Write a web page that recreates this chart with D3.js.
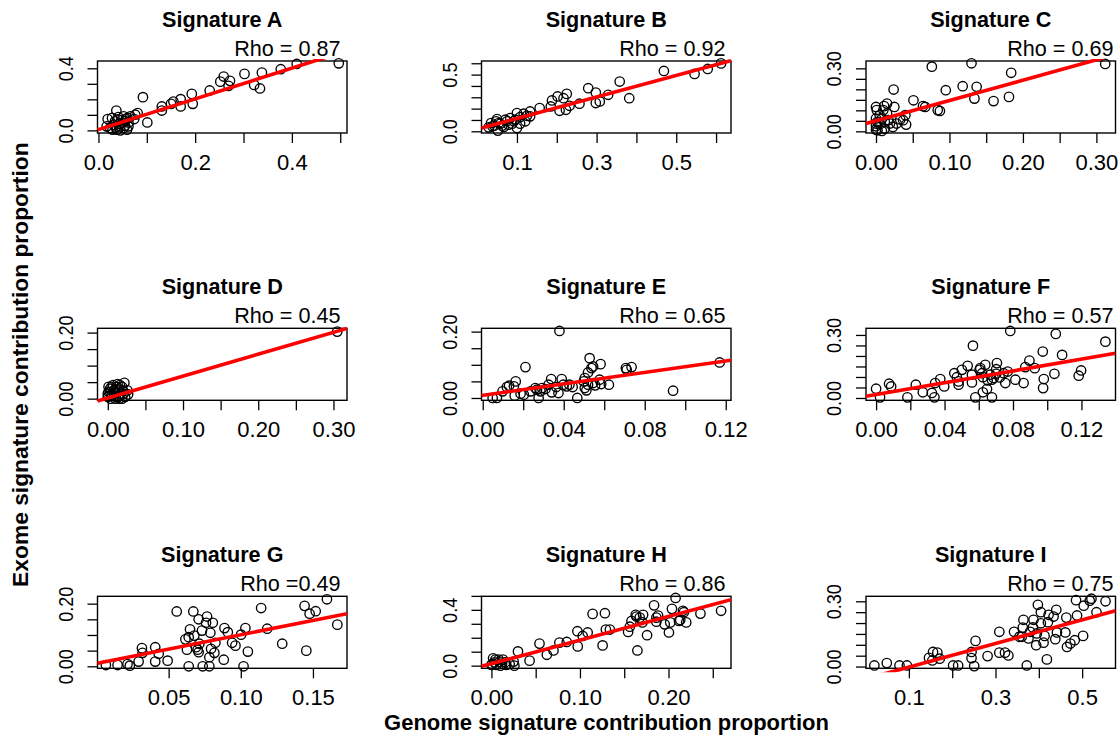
<!DOCTYPE html>
<html>
<head>
<meta charset="utf-8">
<script src="https://cdn.jsdelivr.net/npm/d3@7"></script>
<style>
  body { margin: 0; background: #fff; }
  svg { display: block; }
</style>
</head>
<body>
<svg id="chart" width="1120" height="751"></svg>
<script>
// ---- data: genome (x) vs exome (y) signature contribution proportions ----
const panelTitles = ["Signature A", "Signature B", "Signature C",
                     "Signature D", "Signature E", "Signature F",
                     "Signature G", "Signature H", "Signature I"];
const rhoLabels = ["Rho = 0.87", "Rho = 0.92", "Rho = 0.69",
                   "Rho = 0.45", "Rho = 0.65", "Rho = 0.57",
                   "Rho =0.49", "Rho = 0.86", "Rho = 0.75"];

const sigA = [[0.497,0.432],[0.410,0.428],[0.377,0.394],[0.338,0.372],[0.302,0.364],[0.259,0.347],[0.252,0.314],[0.272,0.319],[0.269,0.287],[0.322,0.293],[0.334,0.270],[0.230,0.257],[0.193,0.235],[0.195,0.171],[0.170,0.201],[0.170,0.154],[0.155,0.186],[0.150,0.171],[0.131,0.154],[0.131,0.128],[0.092,0.214],[0.101,0.051],[0.081,0.111],[0.076,0.101],[0.074,0.073],[0.062,0.051],[0.055,0.030],[0.037,0.128],[0.019,0.073],[0.024,0.015],[0.031,0.036],[0.038,0.004],[0.045,0.000],[0.052,0.015],[0.059,0.004],[0.048,0.068],[0.041,0.086],[0.052,0.090],[0.034,0.058],[0.062,0.026],[0.017,0.026],[0.043,0.043],[0.057,0.073],[0.028,0.080],[0.045,0.025],[0.036,0.018],[0.050,0.050],[0.060,0.080],[0.066,0.090],[0.029,0.005],[0.040,0.070],[0.055,0.060]];

const sigB = [[0.6125,0.599],[0.579,0.550],[0.546,0.506],[0.469,0.532],[0.358,0.439],[0.382,0.292],[0.329,0.322],[0.298,0.342],[0.298,0.249],[0.308,0.263],[0.279,0.380],[0.257,0.243],[0.225,0.330],[0.217,0.292],[0.202,0.307],[0.188,0.272],[0.185,0.219],[0.207,0.181],[0.223,0.190],[0.232,0.225],[0.157,0.205],[0.133,0.175],[0.117,0.155],[0.100,0.161],[0.108,0.126],[0.121,0.088],[0.100,0.029],[0.083,0.117],[0.075,0.088],[0.058,0.067],[0.048,0.088],[0.050,0.108],[0.035,0.073],[0.029,0.035],[0.052,0.006],[0.067,0.038],[0.088,0.067],[0.096,0.102],[0.125,0.137],[0.071,0.102],[0.043,0.050],[0.063,0.050],[0.108,0.067],[0.079,0.058],[0.092,0.088],[0.054,0.073],[0.038,0.044],[0.133,0.132]];

const sigC = [[0.312,0.321],[0.130,0.324],[0.076,0.308],[0.184,0.279],[0.118,0.215],[0.137,0.212],[0.095,0.196],[0.134,0.156],[0.160,0.144],[0.181,0.164],[0.024,0.199],[0.051,0.148],[0.064,0.120],[0.067,0.116],[0.084,0.101],[0.087,0.097],[0.040,0.077],[0.041,0.032],[0.033,0.056],[0.028,0.037],[0.023,0.021],[0.025,0.116],[0.015,0.132],[0.011,0.120],[0.000,0.116],[0.001,0.101],[0.015,0.085],[0.008,0.061],[0.002,0.045],[0.000,0.024],[0.002,0.005],[0.008,0.002],[0.012,0.013],[0.005,0.034],[0.017,0.053],[0.000,0.061],[0.000,0.008],[0.019,0.037],[0.005,0.077],[0.010,0.101],[0.000,0.037],[0.012,0.045],[0.037,0.053]];

const sigD = [[0.305,0.203],[0.022,0.048],[0.027,0.013],[0.016,0.041],[0.012,0.036],[0.003,0.030],[0.001,0.020],[0.005,0.010],[0.010,0.000],[0.014,0.005],[0.019,0.000],[0.000,0.005],[0.008,0.025],[0.011,0.017],[0.015,0.027],[0.021,0.015],[0.004,0.000],[0.001,0.036],[0.016,0.013],[0.023,0.005],[0.007,0.041],[0.013,0.044],[0.019,0.036],[0.000,0.015],[0.008,0.007],[0.020,0.025],[0.003,0.020],[0.015,0.000],[0.026,0.025],[0.010,0.029],[0.005,0.036]];

const sigE = [[0.117,0.107],[0.094,0.022],[0.0735,0.093],[0.0707,0.090],[0.0711,0.085],[0.0379,0.202],[0.0528,0.120],[0.0582,0.102],[0.0545,0.095],[0.0537,0.090],[0.052,0.077],[0.0504,0.060],[0.0499,0.050],[0.0504,0.030],[0.0512,0.023],[0.052,0.040],[0.0545,0.045],[0.0577,0.055],[0.0585,0.042],[0.0623,0.040],[0.0467,0.000],[0.0444,0.033],[0.0428,0.040],[0.0415,0.035],[0.039,0.057],[0.0338,0.057],[0.0374,0.015],[0.0341,0.017],[0.0325,0.040],[0.031,0.027],[0.0285,0.020],[0.0276,0.000],[0.026,0.030],[0.0236,0.020],[0.0211,0.093],[0.0203,0.010],[0.0187,0.013],[0.0163,0.050],[0.0154,0.035],[0.0158,0.007],[0.013,0.037],[0.0119,0.033],[0.0098,0.020],[0.007,0.000],[0.0049,0.000],[0.0363,0.033],[0.0398,0.040],[0.0268,0.025],[0.0293,0.030],[0.0555,0.038]];

const sigF = [[0.134,0.268],[0.105,0.305],[0.0784,0.319],[0.0566,0.249],[0.0974,0.221],[0.1087,0.205],[0.0896,0.178],[0.0872,0.147],[0.0927,0.142],[0.0706,0.166],[0.0702,0.137],[0.0702,0.115],[0.0638,0.158],[0.0609,0.142],[0.0605,0.134],[0.0619,0.118],[0.0624,0.099],[0.0652,0.084],[0.0667,0.111],[0.0677,0.087],[0.0648,0.043],[0.0624,0.027],[0.0677,0.003],[0.058,0.003],[0.0560,0.074],[0.0560,0.111],[0.0535,0.153],[0.0501,0.134],[0.0457,0.118],[0.0472,0.099],[0.0482,0.063],[0.0482,0.079],[0.0375,0.090],[0.0345,0.071],[0.0398,0.055],[0.0326,0.024],[0.0341,0.003],[0.0273,0.027],[0.0232,0.063],[0.0183,0.003],[0.0076,0.068],[0.0088,0.055],[0.000,0.044],[0.0023,0.003],[0.0755,0.071],[0.0769,0.126],[0.0814,0.087],[0.0862,0.071],[0.0980,0.090],[0.0976,0.047],[0.1042,0.115],[0.1184,0.106],[0.1198,0.131],[0.0722,0.098],[0.0687,0.095],[0.0745,0.118]];

const sigG = [[0.1597,0.214],[0.1669,0.133],[0.1442,0.193],[0.1519,0.176],[0.1477,0.168],[0.1454,0.050],[0.1141,0.186],[0.1183,0.120],[0.1287,0.072],[0.1032,0.122],[0.1002,0.101],[0.1019,0.000],[0.1049,0.047],[0.0963,0.066],[0.0940,0.075],[0.0910,0.109],[0.0887,0.122],[0.0882,0.021],[0.0824,0.075],[0.0817,0.043],[0.0794,0.056],[0.0806,0.139],[0.0789,0.107],[0.0766,0.159],[0.0759,0.139],[0.0782,0.029],[0.0782,0.000],[0.0736,0.000],[0.0731,0.114],[0.0708,0.150],[0.0671,0.175],[0.0708,0.045],[0.0701,0.053],[0.0690,0.061],[0.0678,0.098],[0.0648,0.118],[0.0639,0.093],[0.0616,0.086],[0.0627,0.053],[0.0639,0.000],[0.0556,0.175],[0.0493,0.018],[0.0431,0.040],[0.0407,0.061],[0.0407,0.015],[0.0315,0.058],[0.0319,0.043],[0.0292,0.015],[0.0231,0.002],[0.0215,0.007],[0.0146,0.004],[0.0065,0.004],[0.0713,0.072]];

const sigH = [[0.2594,0.393],[0.2361,0.373],[0.2080,0.485],[0.2039,0.407],[0.2163,0.393],[0.2174,0.383],[0.2133,0.327],[0.2200,0.310],[0.2118,0.320],[0.2020,0.310],[0.2005,0.238],[0.1957,0.296],[0.1837,0.432],[0.1863,0.344],[0.1882,0.359],[0.1863,0.315],[0.1758,0.218],[0.1713,0.364],[0.1705,0.310],[0.1675,0.344],[0.1638,0.352],[0.1582,0.320],[0.1563,0.279],[0.1544,0.242],[0.1649,0.109],[0.1630,0.364],[0.1338,0.259],[0.1293,0.259],[0.1282,0.376],[0.1143,0.371],[0.1256,0.145],[0.1087,0.238],[0.1031,0.213],[0.0971,0.247],[0.0975,0.138],[0.0851,0.170],[0.0768,0.165],[0.0701,0.109],[0.0626,0.078],[0.0543,0.158],[0.0431,0.036],[0.0300,0.102],[0.0251,0.029],[0.0259,0.000],[0.0206,0.012],[0.0157,0.024],[0.0120,0.012],[0.0094,0.029],[0.0045,0.044],[0.0019,0.053],[0.0007,0.012],[0.0056,0.005],[0.0082,0.044],[0.0131,0.044],[0.0034,0.024],[0.0000,0.005],[0.0101,0.000],[0.0169,0.005]];

const sigI = [[0.554,0.300],[0.5215,0.312],[0.5176,0.303],[0.4859,0.305],[0.5037,0.280],[0.5331,0.250],[0.4882,0.235],[0.4635,0.225],[0.5022,0.141],[0.4828,0.121],[0.4728,0.106],[0.4650,0.090],[0.4612,0.157],[0.4418,0.157],[0.4380,0.126],[0.4341,0.230],[0.4225,0.238],[0.4210,0.204],[0.4403,0.261],[0.4186,0.033],[0.4132,0.141],[0.4047,0.199],[0.4047,0.250],[0.3978,0.284],[0.3954,0.152],[0.3939,0.098],[0.4109,0.110],[0.3877,0.215],[0.3862,0.180],[0.3645,0.215],[0.3630,0.179],[0.3606,0.137],[0.3761,0.129],[0.3722,0.005],[0.3552,0.137],[0.3428,0.160],[0.3088,0.160],[0.3800,0.160],[0.3297,0.051],[0.3219,0.064],[0.3088,0.064],[0.2817,0.048],[0.2539,0.118],[0.2446,0.067],[0.2446,0.039],[0.2508,0.002],[0.2137,0.005],[0.2021,0.005],[0.1657,0.064],[0.1557,0.067],[0.1464,0.040],[0.1541,0.028],[0.1712,0.036],[0.0954,0.005],[0.0783,0.005],[0.0490,0.016],[0.0203,0.005]];

const panelPoints = [sigA, sigB, sigC, sigD, sigE, sigF, sigG, sigH, sigI];

// least-squares fit lines (exome = intercept + slope * genome)
const fitIntercepts = [0.005, 0.019, 0.050, 0.002, 0.008, 0.0162, 0.009, 0.014, -0.0568];
const fitSlopes     = [0.990, 0.947, 0.969, 0.663, 0.861, 1.406,  0.916, 1.696, 0.543];

// axis limits
const xLimits = [[-0.002,0.514],[0.011,0.6375],[-0.0136,0.326],[-0.0137,0.318],[-0.0006,0.1226],[-0.0059,0.1399],[0.0007,0.1736],[-0.0112,0.2706],[0.001,0.577]];
const yLimits = [[-0.017,0.447],[-0.015,0.620],[-0.008,0.335],[-0.005,0.213],[-0.007,0.210],[-0.011,0.3316],[-0.0064,0.2235],[-0.019,0.497],[-0.008,0.323]];

// ticks (blank label = tick drawn without text)
const xTicks = [[0,0.1,0.2,0.3,0.4,0.5],[0.1,0.2,0.3,0.4,0.5,0.6],[0,0.05,0.1,0.15,0.2,0.25,0.3],
                [0,0.05,0.1,0.15,0.2,0.25,0.3],[0,0.02,0.04,0.06,0.08,0.1,0.12],[0,0.02,0.04,0.06,0.08,0.1,0.12],
                [0.05,0.1,0.15],[0,0.05,0.1,0.15,0.2,0.25],[0.1,0.2,0.3,0.4,0.5]];
const xTickLabels = [["0.0","","0.2","","0.4",""],["0.1","","0.3","","0.5",""],["0.00","","0.10","","0.20","","0.30"],
                     ["0.00","","0.10","","0.20","","0.30"],["0.00","","0.04","","0.08","","0.12"],["0.00","","0.04","","0.08","","0.12"],
                     ["0.05","0.10","0.15"],["0.00","","0.10","","0.20",""],["0.1","","0.3","","0.5"]];
const yTicks = [[0,0.1,0.2,0.3,0.4],[0,0.1,0.2,0.3,0.4,0.5,0.6],[0,0.05,0.1,0.15,0.2,0.25,0.3],
                [0,0.05,0.1,0.15,0.2],[0,0.05,0.1,0.15,0.2],[0,0.05,0.1,0.15,0.2,0.25,0.3],
                [0,0.05,0.1,0.15,0.2],[0,0.1,0.2,0.3,0.4,0.5],[0,0.05,0.1,0.15,0.2,0.25,0.3]];
const yTickLabels = [["0.0","","","","0.4"],["0.0","","","","","0.5",""],["0.00","","","","","","0.30"],
                     ["0.00","","","","0.20"],["0.00","","","","0.20"],["0.00","","","","","","0.30"],
                     ["0.00","","","","0.20"],["0.0","","","","0.4",""],["0.00","","","","","","0.30"]];

const xAxisTitle = "Genome signature contribution proportion";
const yAxisTitle = "Exome signature contribution proportion";

// ---- layout ----
const FONT = "'Liberation Sans', Arial, Helvetica, sans-serif";
const colLeft = [97.5, 481.5, 866];
const rowTop = [61, 328.3, 596.3];
const rhoInset = [6.5, 5.5, 2];
const boxW = 249.5, boxH = 72;
const tickLen = 10;

const svg = d3.select("#chart");
const defs = svg.append("defs");

panelPoints.forEach((pts, i) => {
  const col = i % 3, row = Math.floor(i / 3);
  const g = svg.append("g").attr("transform", `translate(${colLeft[col]},${rowTop[row]})`);

  const x = d3.scaleLinear().domain(xLimits[i]).range([0, boxW]);
  const y = d3.scaleLinear().domain(yLimits[i]).range([boxH, 0]);

  defs.append("clipPath").attr("id", `plot-clip-${i}`)
    .append("rect").attr("x", -3).attr("y", -2).attr("width", boxW + 3).attr("height", boxH + 6);

  // open circle markers
  g.append("g").selectAll("circle").data(pts).join("circle")
    .attr("cx", d => x(d[0]))
    .attr("cy", d => y(d[1]))
    .attr("r", 4.7)
    .attr("fill", "none")
    .attr("stroke", "#000")
    .attr("stroke-width", 1.35);

  // plot frame
  g.append("rect")
    .attr("width", boxW).attr("height", boxH)
    .attr("fill", "none").attr("stroke", "#000").attr("stroke-width", 1.4);

  // x axis
  const gx = g.append("g").attr("transform", `translate(0,${boxH})`)
    .call(d3.axisBottom(x).tickValues(xTicks[i])
      .tickFormat((d, k) => xTickLabels[i][k])
      .tickSize(tickLen).tickSizeOuter(0));
  gx.select(".domain").remove();
  gx.selectAll(".tick line").attr("stroke", "#000").attr("stroke-width", 1.3);
  gx.selectAll(".tick text")
    .attr("y", 36.5).attr("dy", 0)
    .attr("font-family", FONT).attr("font-size", 22).attr("fill", "#000");

  // y axis (labels run parallel to the axis)
  const gy = g.append("g")
    .call(d3.axisLeft(y).tickValues(yTicks[i])
      .tickFormat((d, k) => yTickLabels[i][k])
      .tickSize(tickLen).tickSizeOuter(0));
  gy.select(".domain").remove();
  gy.selectAll(".tick line").attr("stroke", "#000").attr("stroke-width", 1.3);
  gy.selectAll(".tick text")
    .attr("transform", "rotate(-90) scale(0.86,1)")
    .attr("x", 0).attr("y", -25).attr("dy", 0)
    .attr("text-anchor", "middle")
    .attr("font-family", FONT).attr("font-size", 21).attr("fill", "#000");

  g.selectAll(".tick").attr("font-family", null).attr("font-size", null);

  // regression line
  const [x0, x1] = xLimits[i];
  g.append("line")
    .attr("clip-path", `url(#plot-clip-${i})`)
    .attr("x1", x(x0)).attr("y1", y(fitIntercepts[i] + fitSlopes[i] * x0))
    .attr("x2", x(x1)).attr("y2", y(fitIntercepts[i] + fitSlopes[i] * x1))
    .attr("stroke", "#ff0000").attr("stroke-width", 3.6);

  // panel title and correlation label
  g.append("text")
    .attr("x", boxW / 2).attr("y", -34.5)
    .attr("text-anchor", "middle")
    .attr("font-family", FONT).attr("font-weight", "bold").attr("font-size", 21.6)
    .text(panelTitles[i]);
  g.append("text")
    .attr("x", boxW - rhoInset[col]).attr("y", -5.5)
    .attr("text-anchor", "end")
    .attr("font-family", FONT).attr("font-size", 21.6)
    .text(rhoLabels[i]);
});

// shared axis titles
const gridLeft = colLeft[0], gridRight = colLeft[2] + boxW;
const gridTop = rowTop[0], gridBottom = rowTop[2] + boxH;

svg.append("text")
  .attr("x", (gridLeft + gridRight) / 2).attr("y", 730)
  .attr("text-anchor", "middle")
  .attr("font-family", FONT).attr("font-weight", "bold").attr("font-size", 22)
  .text(xAxisTitle);

svg.append("text")
  .attr("transform", `translate(28,${(gridTop + gridBottom) / 2}) rotate(-90)`)
  .attr("text-anchor", "middle")
  .attr("font-family", FONT).attr("font-weight", "bold").attr("font-size", 22.8)
  .text(yAxisTitle);
</script>
</body>
</html>
